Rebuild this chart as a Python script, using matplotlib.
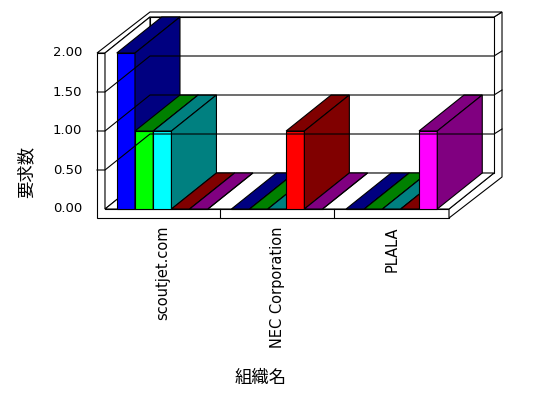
import matplotlib.pyplot as plt
from matplotlib.patches import Polygon

# data
categories = ['scoutjet.com', 'NEC Corporation', 'PLALA']
blue_vals = [2, 0, 0]
green_vals = [1, 0, 0]
cyan_vals = [1, 0, 0]
red_vals = [0, 1, 0]
magenta_vals = [0, 0, 1]
y_ticks = [0.0, 0.5, 1.0, 1.5, 2.0]
y_title = '要求数'
x_title = '組織名'

series = [blue_vals, green_vals, cyan_vals, red_vals, magenta_vals]
front_cols = ['#0000FF', '#00FF00', '#00FFFF', '#FF0000', '#FF00FF']
dark_cols = ['#000080', '#008000', '#008080', '#800000', '#800080']

# layout (pixel sizes of one category / one value unit)
CW = 114.67
VH = 78.0
X0, Y0 = 105, 209
D1 = (45 / CW, 36 / VH)      # depth of the plot box
D2 = (53 / CW, 41 / VH)      # depth incl. back wall thickness
DZ = (0, 0)
WT = 8 / CW                  # left wall thickness
FT = 9 / VH                  # floor thickness
GAP = 23.5 / CW
LW = 0.8

n_cat = len(categories)
n_ser = len(series)
BW = (1 - GAP) / n_ser
YM = y_ticks[-1]


def P(x, y, d):
    return (x + d[0], y + d[1])


fig = plt.figure(figsize=(5.48, 3.98), dpi=100)
ax = fig.add_axes([0, 0, 1, 1])
ax.set_xlim(-X0 / CW, (548 - X0) / CW)
ax.set_ylim((Y0 - 398) / VH, Y0 / VH)
ax.axis('off')


def face(pts, fc):
    ax.add_patch(Polygon(pts, closed=True, facecolor=fc, edgecolor='black',
                         lw=LW, joinstyle='miter'))


# walls and floor
face([P(-WT, -FT, DZ), P(n_cat, -FT, DZ), P(n_cat, 0, DZ), P(0, 0, DZ),
      P(0, YM, DZ), P(-WT, YM, DZ)], 'white')
face([P(n_cat, -FT, DZ), P(n_cat, 0, DZ), P(n_cat, 0, D1), P(n_cat, YM, D1),
      P(n_cat, YM, D2), P(n_cat, -FT, D2)], 'white')
face([P(-WT, YM, DZ), P(0, YM, DZ), P(0, YM, D1), P(n_cat, YM, D1),
      P(n_cat, YM, D2), P(-WT, YM, D2)], 'white')
face([P(0, 0, DZ), P(0, 0, D1), P(0, YM, D1), P(0, YM, DZ)], 'white')
face([P(0, 0, D1), P(n_cat, 0, D1), P(n_cat, YM, D1), P(0, YM, D1)], 'white')
face([P(0, 0, DZ), P(n_cat, 0, DZ), P(n_cat, 0, D1), P(0, 0, D1)], 'white')

# category dividers on floor front
for i in range(1, n_cat):
    ax.plot([i, i], [-FT, 0], color='black', lw=LW)

# grid lines
for v in y_ticks[1:-1]:
    pts = [P(-WT, v, DZ), P(0, v, DZ), P(0, v, D1), P(n_cat, v, D1), P(n_cat, v, D2)]
    ax.plot([p[0] for p in pts], [p[1] for p in pts], color='black', lw=LW)

# bars
for i in range(n_cat):
    for j in range(n_ser):
        h = series[j][i]
        l = i + GAP / 2 + j * BW
        r = l + BW
        face([P(l, 0, DZ), P(r, 0, DZ), P(r, h, DZ), P(l, h, DZ)], front_cols[j])
        face([P(l, h, DZ), P(r, h, DZ), P(r, h, D1), P(l, h, D1)], dark_cols[j])
        face([P(r, 0, DZ), P(r, 0, D1), P(r, h, D1), P(r, h, DZ)], dark_cols[j])

# texts
for v in y_ticks:
    ax.text((82 - X0) / CW, v, f'{v:.2f}', ha='right', va='center', fontsize=9.5)

for i, name in enumerate(categories):
    ax.text(i + 0.5, (Y0 - 226) / VH, name, rotation=90, ha='center', va='top',
            fontsize=10.5)

ax.text((26 - X0) / CW, (Y0 - 172) / VH, y_title, rotation=90, ha='center',
        va='center', fontsize=12.5, family='Noto Sans CJK JP')
ax.text((261 - X0) / CW, (Y0 - 378) / VH, x_title, ha='center', va='center',
        fontsize=12.5, family='Noto Sans CJK JP')

fig.savefig('out.png', dpi=100)
